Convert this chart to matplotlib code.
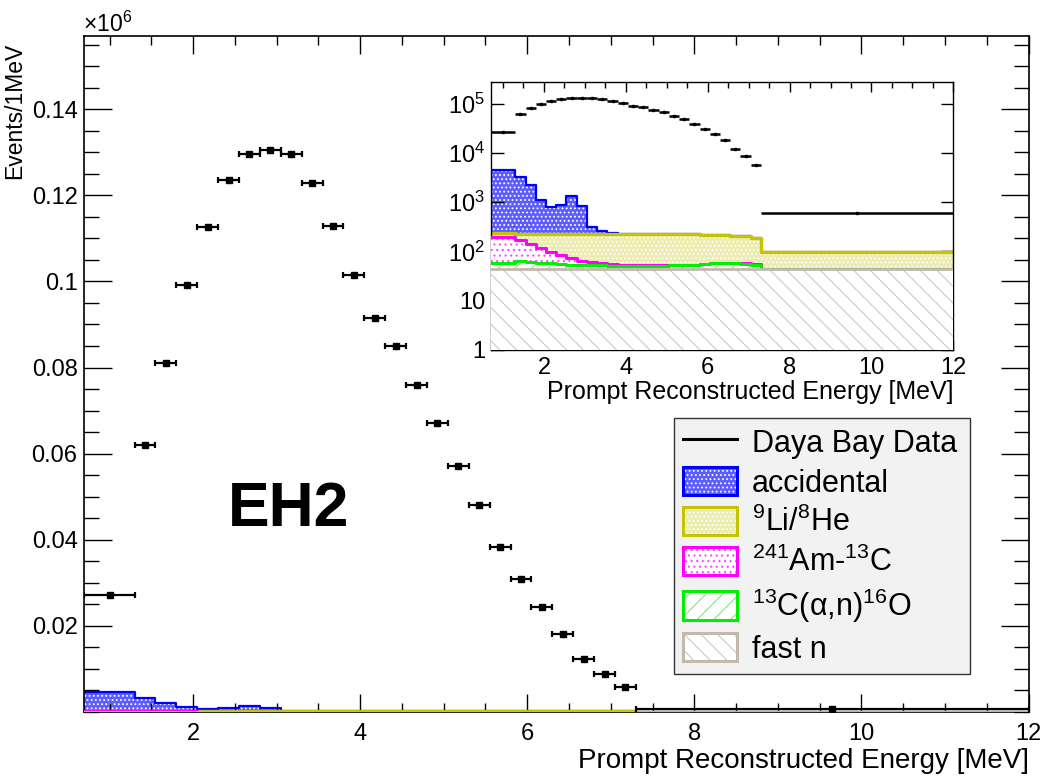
import numpy as np
import matplotlib
matplotlib.use("Agg")
import matplotlib.pyplot as plt
from matplotlib.patches import Patch
from matplotlib.lines import Line2D
from matplotlib.ticker import FixedLocator, MultipleLocator, NullFormatter, LogLocator

plt.rcParams['font.family'] = ['Liberation Sans', 'DejaVu Sans']
plt.rcParams['mathtext.fontset'] = 'custom'
plt.rcParams['mathtext.rm'] = 'Liberation Sans'
plt.rcParams['mathtext.it'] = 'Liberation Sans:italic'
plt.rcParams['mathtext.bf'] = 'Liberation Sans:bold'
plt.rcParams['hatch.linewidth'] = 0.8

# bin edges in MeV: one wide bin, 24 bins of 0.25 MeV, one wide bin
edges = [0.7, 1.3, 1.55, 1.8, 2.05, 2.3, 2.55, 2.8, 3.05, 3.3, 3.55, 3.8, 4.05, 4.3,
         4.55, 4.8, 5.05, 5.3, 5.55, 5.8, 6.05, 6.3, 6.55, 6.8, 7.05, 7.3, 12.0]

# events / 1 MeV
data = [27100, 62100, 81100, 99200, 112600, 123600, 129700, 130600, 129700, 122900,
        112900, 101500, 91500, 84900, 76000, 67100, 57200, 48000, 38300, 30800,
        24400, 18200, 12200, 8800, 5800, 600]

accidental = [4320, 3020, 1970, 870, 570, 670, 1120, 620, 90, 27, 8, 3, 0, 0, 0, 0,
              0, 0, 0, 0, 0, 0, 0, 0, 0, 0]
lihe = [40, 61, 89, 111, 131, 144, 156, 163, 168, 171, 173, 174, 175, 173, 174, 174,
        172, 171, 168, 164, 160, 155, 152, 148, 130, 53]
amc = [137, 104, 77, 58, 40, 29, 18, 12, 8, 5, 4, 3, 2, 2, 1, 1, 1, 1, 1, 1, 1, 1, 1,
       1, 1, 0]
c13 = [14, 19, 18, 15, 13, 11, 10, 9, 8, 8, 7, 7, 7, 7, 7, 7, 8, 8, 9, 11, 13, 14, 13,
       12, 10, 0]
fastn = [44, 44, 44, 44, 44, 44, 44, 44, 44, 44, 44, 44, 44, 44, 44, 44, 44, 44, 44,
         44, 44, 44, 44, 44, 44, 44]

labels = ['Daya Bay Data', 'accidental', '$^{9}$Li/$^{8}$He', '$^{241}$Am-$^{13}$C',
          '$^{13}$C(α,n)$^{16}$O', 'fast n']

# stack styles, bottom to top: fast n, 13C, AmC, Li/He, accidental
faces = ['white', 'white', 'white', '#ececb0', '#5c5cff']
hatchc = ['#c8c8c8', '#77ee77', '#ff44ff', 'white', 'white']
hatches = ['\\\\', '//', '...', '....', '....']
linec = ['#c2b8ac', '#00ee00', '#ff00ff', '#c4c400', '#0000ff']
linew = [2.0, 2.2, 2.2, 2.4, 1.6]

edges_a = np.array(edges)
centers = 0.5 * (edges_a[1:] + edges_a[:-1])
halfw = 0.5 * (edges_a[1:] - edges_a[:-1])
comps = np.array([fastn, c13, amc, lihe, accidental], dtype=float)
cum = np.cumsum(comps, axis=0)


def draw_stack(ax, floor, scale):
    for i in reversed(range(5)):
        top = np.append(cum[i], cum[i][-1]) / scale
        z = 1 + (4 - i)
        ax.fill_between(edges_a, floor, top, step='post', facecolor=faces[i],
                        edgecolor=hatchc[i], hatch=hatches[i], linewidth=0, zorder=z)
        ax.step(edges_a, top, where='post', color=linec[i], lw=linew[i], zorder=z + 0.5)


fig = plt.figure(figsize=(10.49, 7.8), dpi=100)

# main panel
ax = fig.add_axes([0.0805, 0.0872, 0.900, 0.8667])
draw_stack(ax, 0, 1e6)
ax.errorbar(centers, np.array(data) / 1e6, xerr=halfw, fmt='s', color='k', ms=4,
            lw=1.6, capsize=2.5, capthick=1.6, zorder=10)
ax.set_xlim(0.7, 12)
ax.set_ylim(0, 0.157)
ax.xaxis.set_major_locator(FixedLocator([2, 4, 6, 8, 10, 12]))
ax.xaxis.set_minor_locator(MultipleLocator(0.5))
ax.set_xticklabels(['2', '4', '6', '8', '10', '12'])
yt = [0.02, 0.04, 0.06, 0.08, 0.1, 0.12, 0.14]
ax.set_yticks(yt)
ax.set_yticklabels(['0.02', '0.04', '0.06', '0.08', '0.1', '0.12', '0.14'])
ax.yaxis.set_minor_locator(MultipleLocator(0.005))
ax.tick_params(which='both', direction='in', top=True, right=True, width=1, labelsize=17)
ax.tick_params(axis='x', which='major', length=13, pad=8)
ax.tick_params(axis='x', which='minor', length=6.5)
ax.tick_params(axis='y', which='major', length=20, pad=5)
ax.tick_params(axis='y', which='minor', length=11)
for s in ax.spines.values():
    s.set_linewidth(1.2)
ax.set_xlabel('Prompt Reconstructed Energy [MeV]', loc='right', fontsize=20, labelpad=2)
ax.set_ylabel('Events/1MeV', loc='top', fontsize=16.5)
ax.yaxis.set_label_coords(-0.062, 0.99)
fig.text(0.079, 0.959, '×10$^{6}$', fontsize=16.5, ha='left', va='baseline')
fig.text(0.2755, 0.347, 'EH2', fontsize=45, fontweight='bold', ha='center', va='center')

# log inset
ax2 = fig.add_axes([0.4678, 0.5513, 0.441, 0.344])
draw_stack(ax2, 0.5, 1)
ax2.errorbar(centers, data, xerr=halfw, fmt='s', color='k', ms=1.5, lw=1.8,
             capsize=0, zorder=10)
ax2.set_yscale('log')
ax2.set_xlim(0.7, 12)
ax2.set_ylim(1, 2.8e5)
ax2.set_yticks([1, 10, 100, 1e3, 1e4, 1e5])
ax2.set_yticklabels(['1', '10', '$10^{2}$', '$10^{3}$', '$10^{4}$', '$10^{5}$'])
ax2.yaxis.set_minor_locator(LogLocator(base=10, subs=np.arange(2, 10)))
ax2.yaxis.set_minor_formatter(NullFormatter())
ax2.xaxis.set_major_locator(FixedLocator([2, 4, 6, 8, 10, 12]))
ax2.xaxis.set_minor_locator(MultipleLocator(0.5))
ax2.set_xticklabels(['2', '4', '6', '8', '10', '12'])
ax2.tick_params(which='both', direction='in', top=True, right=True, width=1, labelsize=17)
ax2.tick_params(axis='x', which='major', length=7, pad=5)
ax2.tick_params(axis='x', which='minor', length=4)
ax2.tick_params(axis='y', which='major', length=9, pad=4)
ax2.tick_params(axis='y', which='minor', length=4.5)
for s in ax2.spines.values():
    s.set_linewidth(1.0)
ax2.set_xlabel('Prompt Reconstructed Energy [MeV]', loc='right', fontsize=18, labelpad=1)

# legend
handles = [Line2D([], [], color='k', lw=2.2)]
for i in [4, 3, 2, 1, 0]:
    handles.append((Patch(facecolor=faces[i], edgecolor=hatchc[i], hatch=hatches[i], lw=0),
                    Patch(facecolor='none', edgecolor=linec[i], lw=2.2)))
leg = fig.legend(handles, labels, loc='upper left',
                 bbox_to_anchor=(0.6425, 0.1385, 0.2822, 0.3256),
                 mode='expand', fontsize=22, frameon=True, fancybox=False, framealpha=1,
                 handlelength=1.75, handleheight=1.05, labelspacing=0.27, borderpad=0.3,
                 handletextpad=0.5, borderaxespad=0)
leg.get_frame().set_facecolor('#f2f2f2')
leg.get_frame().set_edgecolor('#333333')
leg.get_frame().set_linewidth(1.0)

fig.savefig('out.png', dpi=100)
